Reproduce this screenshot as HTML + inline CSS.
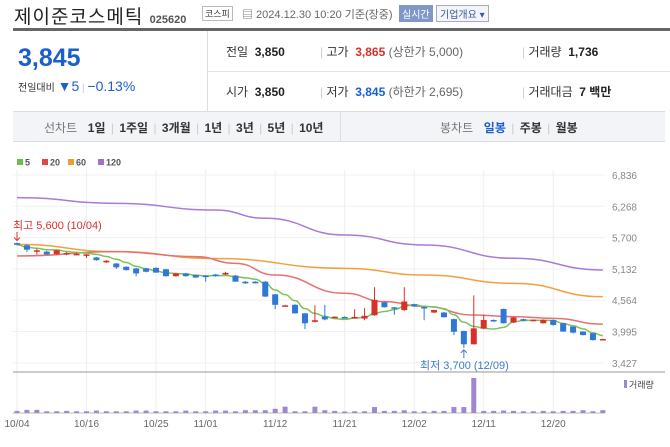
<!DOCTYPE html>
<html><head><meta charset="utf-8">
<style>
body{margin:0;width:670px;height:447px;overflow:hidden;background:#fff;font-family:"Liberation Sans","Noto Sans CJK KR",sans-serif;position:relative}
.a{position:absolute;white-space:nowrap}
.lbl{font-size:12px;color:#333}
.v{font-size:12px;color:#222;font-weight:bold}
</style></head><body>
<div class="a" style="left:14px;top:2px;font-size:19px;color:#222;letter-spacing:1px">제이준코스메틱 <span style="font-size:11px;font-weight:bold;color:#555;letter-spacing:0">025620</span></div>
<div class="a" style="left:202px;top:6px;font-size:9px;border:1px solid #bbb;padding:0 2px;color:#444">코스피</div>
<div class="a" style="left:242px;top:6px;font-size:11px;color:#666">▤ 2024.12.30 10:20 기준(장중)</div>
<div class="a" style="left:399px;top:5px;font-size:10px;background:#7f97c9;color:#fff;padding:1px 3px">실시간</div>
<div class="a" style="left:436px;top:5px;font-size:10px;border:1px solid #aab;color:#3a5a9a;padding:0 3px;background:#f3f5fa">기업개요 ▾</div>
<div class="a" style="left:13px;top:28px;width:657px;height:3px;background:#666"></div>
<div class="a" style="left:13px;top:31px;width:194px;height:109px;border-right:1px solid #ddd"></div>
<div class="a" style="left:18px;top:44px;font-size:25px;font-weight:bold;color:#1a5fcc">3,845</div>
<div class="a" style="left:18px;top:78px;font-size:10px;color:#333">전일대비 <span style="font-size:14px;color:#1a5fcc">▼5</span> <span style="color:#ccc">|</span> <span style="font-size:14px;color:#1a5fcc">−0.13%</span></div>
<div class="a" style="left:207px;top:71px;width:463px;height:1px;background:#e3e3e3"></div>
<div class="a lbl" style="left:226px;top:43px">전일 <b style="color:#222">&nbsp;3,850</b></div>
<div class="a lbl" style="left:226px;top:83px">시가 <b style="color:#222">&nbsp;3,850</b></div>
<div class="a lbl" style="left:320px;top:43px"><span style="color:#ccc">|</span> 고가 <b style="color:#d9302c">&nbsp;3,865</b> <span style="color:#666">(상한가 5,000)</span></div>
<div class="a lbl" style="left:320px;top:83px"><span style="color:#ccc">|</span> 저가 <b style="color:#1a5fcc">&nbsp;3,845</b> <span style="color:#666">(하한가 2,695)</span></div>
<div class="a lbl" style="left:522px;top:43px"><span style="color:#ccc">|</span> 거래량 <b style="color:#222">&nbsp;1,736</b></div>
<div class="a lbl" style="left:522px;top:83px"><span style="color:#ccc">|</span> 거래대금 <b style="color:#222">&nbsp;7 백만</b></div>
<div class="a" style="left:13px;top:111px;width:652px;height:29px;background:#f3f4f7;border-top:1px solid #ddd;border-bottom:1px solid #ddd"></div>
<div class="a" style="left:340px;top:112px;width:1px;height:29px;background:#ddd"></div>
<div class="a" style="left:44px;top:119px;font-size:12px;color:#333;word-spacing:2px"><span style="color:#777">선차트</span>&nbsp; <b>1일</b> <span style="color:#ccc">|</span> <b>1주일</b> <span style="color:#ccc">|</span> <b>3개월</b> <span style="color:#ccc">|</span> <b>1년</b> <span style="color:#ccc">|</span> <b>3년</b> <span style="color:#ccc">|</span> <b>5년</b> <span style="color:#ccc">|</span> <b>10년</b></div>
<div class="a" style="left:440px;top:119px;font-size:12px;color:#333;word-spacing:2px"><span style="color:#777">봉차트</span>&nbsp; <b style="color:#1a5fcc">일봉</b> <span style="color:#ccc">|</span> <b>주봉</b> <span style="color:#ccc">|</span> <b>월봉</b></div>

<svg id="chart" class="a" style="left:0;top:150px" width="670" height="297"></svg>
<script>
const opens=[5600,5560,5450,5445,5400,5410,5395,5390,5340,5250,5230,5170,5140,5140,5150,5125,5000,5050,5020,5010,5030,5030,5010,4900,4900,4900,4670,4460,4480,4325,4170,4265,4250,4260,4250,4230,4290,4525,4435,4385,4490,4440,4340,4340,4220,4005,3763,4053,4205,4405,4160,4220,4195,4145,4205,4145,4085,3995,3965,3845];
const highs=[5610,5580,5500,5460,5480,5440,5430,5400,5350,5290,5240,5180,5150,5150,5160,5130,5060,5060,5030,5020,5040,5080,5020,4910,4910,4910,4680,4480,4490,4330,4470,4480,4270,4270,4400,4420,4800,4540,4440,4800,4500,4450,4390,4350,4230,4010,4650,4300,4215,4410,4260,4230,4215,4215,4215,4150,4090,4000,3970,3865];
const lows=[5560,5440,5390,5390,5385,5380,5380,5330,5280,5240,5130,5100,5000,5070,5060,4990,4990,4990,4970,4900,4990,5020,4900,4860,4870,4620,4400,4450,4320,4040,4160,4200,4240,4240,4240,4200,4280,4430,4300,4370,4440,4200,4330,4250,3930,3700,3760,4040,4170,4140,4150,4180,4185,4140,4100,3990,3960,3925,3830,3840];
const closes=[5570,5480,5470,5395,5470,5420,5405,5395,5290,5280,5160,5110,5050,5080,5065,5000,5050,5000,4975,5000,5020,5060,4900,4870,4870,4630,4480,4470,4325,4145,4200,4215,4265,4250,4260,4280,4570,4435,4420,4540,4450,4420,4385,4255,3990,3763,4053,4205,4190,4145,4250,4190,4210,4205,4115,3995,3975,3930,3840,3860];
const volumes=[6,9,9,5,5,6,5,5,7,5,5,5,7,7,5,5,5,7,5,5,7,7,5,8,8,8,12,18,5,5,18,8,6,2,5,5,17,6,6,8,5,5,6,6,17,17,100,6,6,7,6,5,5,6,5,6,6,8,5,8];
const ma20Idx=[0,10,18,22,26,33,37,41,46,50,54,59];
const ma20Val=[5366,5445,5354,5233,5020,4690,4537,4450,4295,4265,4235,4130];
const ma60Idx=[0,10,20,33,41,50,59];
const ma60Val=[5578,5445,5320,5142,5021,4870,4628];
const ma120Idx=[0,10,20,25,33,41,50,59];
const ma120Val=[6425,6322,6200,6050,5747,5566,5324,5112];
const yTicks=[6836,6268,5700,5132,4564,3995,3427];
const dateIdx=[0,7,14,19,26,33,40,47,54];
const dateLbl=['10/04','10/16','10/25','11/01','11/12','11/21','12/02','12/11','12/20'];

const svg=document.getElementById('chart');
const NS='http://www.w3.org/2000/svg';
const X=i=>17+i*9.93;
const Y=v=>25+(6836-v)*0.0551;
const VB=263, VH=v=>v*0.35;
function mk(t,at){const e=document.createElementNS(NS,t);for(const k in at)e.setAttribute(k,at[k]);svg.appendChild(e);return e;}
yTicks.forEach(v=>{const l=mk('line',{x1:13,x2:605,y1:Y(v),y2:Y(v),stroke:'#f0f0f0'});


const t=mk('text',{x:637,y:Y(v)+4,'text-anchor':'end','font-size':10,fill:'#888'});t.textContent=v.toLocaleString('en-US');

});
dateIdx.forEach((i,k)=>{const l=mk('line',{x1:X(i),x2:X(i),y1:20,y2:VB+2,stroke:'#eee'});


const t=mk('text',{x:X(i),y:277,'text-anchor':'middle','font-size':10,fill:'#666'});t.textContent=dateLbl[k];

});
const sep=mk('line',{x1:13,x2:665,y1:222,y2:222,stroke:'#999'});


const bl=mk('line',{x1:13,x2:605,y1:VB,y2:VB,stroke:'#bbb'});


[['5','#6cbf4a'],['20','#e04848'],['60','#f09a30'],['120','#a070d0']].forEach((d,k)=>{const x=[17,42,68,98][k];
const r=mk('rect',{x:x,y:9,width:6,height:6,fill:d[1]});


const t=mk('text',{x:x+8,y:15.5,'font-size':9,fill:'#555','font-weight':'bold'});t.textContent=d[0];

});
function smooth(idx,val,color,name){const pts=idx.map((i,k)=>[X(i),Y(val[k])]);
let d='M'+pts[0][0]+','+pts[0][1];
for(let k=1;k<pts.length;k++){const p0=pts[k-1],p1=pts[k],mx=(p0[0]+p1[0])/2;d+=` C${mx},${p0[1]} ${mx},${p1[1]} ${p1[0]},${p1[1]}`;}
const p=mk('path',{d:d,fill:'none',stroke:color,'stroke-width':1.5});

}
smooth(ma120Idx,ma120Val,'#a77bd6','ma120-line');
smooth(ma60Idx,ma60Val,'#f0a040','ma60-line');
smooth(ma20Idx,ma20Val,'#e87070','ma20-line');
const ma5=closes.map((c,i)=>{const s=closes.slice(Math.max(0,i-4),i+1);return s.reduce((a,b)=>a+b,0)/s.length;});
smooth(ma5.map((v,i)=>i),ma5,'#7cc35a','ma5-line');
closes.forEach((c,i)=>{const o=opens[i],up=c>o,col=up?'#d9302c':'#2f78d6',x=X(i);
const w=mk('line',{x1:x,x2:x,y1:Y(highs[i]),y2:Y(lows[i]),stroke:col});


const top=Y(Math.max(o,c)),h=Math.max(1.5,Math.abs(Y(o)-Y(c)));
const b=mk('rect',{x:x-3,y:top,width:6,height:h,fill:col});


const vh=Math.max(1.5,VH(volumes[i]));
const vb=mk('rect',{x:x-2.5,y:VB-vh,width:5,height:vh,fill:'#9f88cf'});

});
const hi=mk('text',{x:13,y:79,'font-size':11,fill:'#d9302c'});hi.textContent='최고 5,600 (10/04)';


const ha=mk('path',{d:`M${X(0)},82 L${X(0)},${Y(5610)-2} M${X(0)-3},${Y(5610)-5} L${X(0)},${Y(5610)-2} L${X(0)+3},${Y(5610)-5}`,stroke:'#d9302c',fill:'none'});


const lo=mk('text',{x:420,y:219,'font-size':11,fill:'#3a7cc9'});lo.textContent='최저 3,700 (12/09)';


const lx=X(45);
const la=mk('path',{d:`M${lx},208 L${lx},${Y(3700)+2} M${lx-3},${Y(3700)+5} L${lx},${Y(3700)+2} L${lx+3},${Y(3700)+5}`,stroke:'#3a7cc9',fill:'none'});


const vl=mk('rect',{x:624,y:230,width:3,height:8,fill:'#9f88cf'});


const vt=mk('text',{x:629,y:238,'font-size':9,fill:'#444'});vt.textContent='거래량';


</script>
</body></html>
